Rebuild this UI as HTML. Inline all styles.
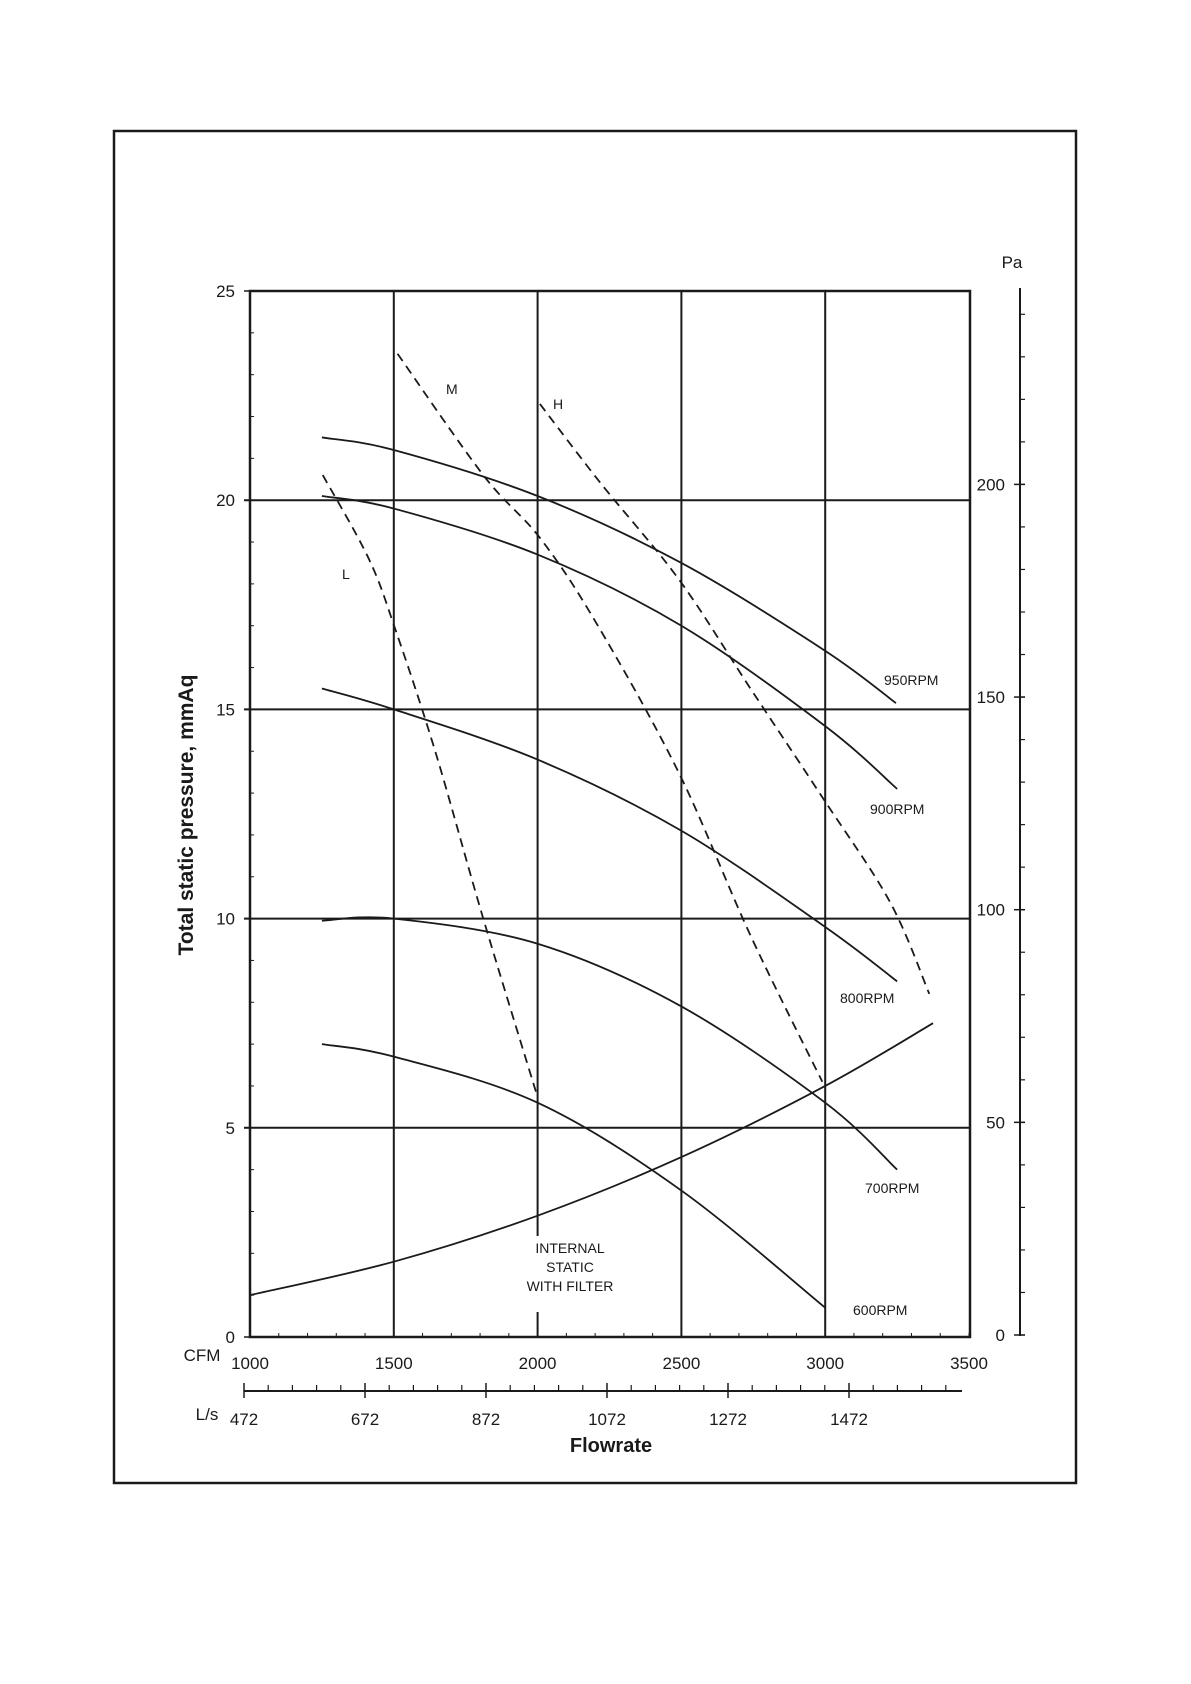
<!DOCTYPE html>
<html><head><meta charset="utf-8"><style>
html,body{margin:0;padding:0;background:#fff}
svg{display:block}
text{font-family:"Liberation Sans",sans-serif;fill:#1a1a1a}
</style></head><body>
<svg id="s" width="1191" height="1684" viewBox="0 0 1191 1684" xmlns="http://www.w3.org/2000/svg">
<rect x="114" y="131" width="962" height="1352" fill="none" stroke="#1a1a1a" stroke-width="2.5"/>
<g id="g"></g>
<text x="1012" y="268" font-size="17" text-anchor="middle">Pa</text>
<text x="193" y="815" font-size="21" font-weight="bold" text-anchor="middle" transform="rotate(-90 193 815)">Total static pressure, mmAq</text>
<text x="202" y="1361" font-size="17" text-anchor="middle">CFM</text>
<text x="207" y="1420" font-size="17" text-anchor="middle">L/s</text>
<text x="611" y="1452" font-size="20" font-weight="bold" text-anchor="middle">Flowrate</text>
<g font-size="14" text-anchor="middle">
<text x="570" y="1253">INTERNAL</text>
<text x="570" y="1272">STATIC</text>
<text x="570" y="1291">WITH FILTER</text>
</g>
<g font-size="14">
<text x="884" y="685">950RPM</text>
<text x="870" y="814">900RPM</text>
<text x="840" y="1003">800RPM</text>
<text x="865" y="1193">700RPM</text>
<text x="853" y="1315">600RPM</text>
<text x="446" y="394">M</text>
<text x="553" y="409">H</text>
<text x="342" y="579">L</text>
</g>
</svg>
<script>
var NS="http://www.w3.org/2000/svg",g=document.getElementById("g");
function X(c){return 250+(c-1000)*0.2876;}
function Y(v){return 1337-v*41.84;}
function el(t,a){var e=document.createElementNS(NS,t);for(var k in a)e.setAttribute(k,a[k]);g.appendChild(e);return e;}
function ln(x1,y1,x2,y2,w){el("line",{x1:x1,y1:y1,x2:x2,y2:y2,stroke:"#1a1a1a","stroke-width":w||1.5});}
function tx(x,y,s,a,fs){var e=el("text",{x:x,y:y,"font-size":fs||17,"text-anchor":a||"middle"});e.textContent=s;}
// grid
[5,10,15,20].forEach(function(v){ln(244,Y(v),970,Y(v),2);});
[1500,2500,3000].forEach(function(c){ln(X(c),291,X(c),1337,2);});
ln(X(2000),291,X(2000),1236,2);ln(X(2000),1312,X(2000),1337,2);
el("rect",{x:250,y:291,width:720,height:1046,fill:"none",stroke:"#1a1a1a","stroke-width":2.5});
for(var v=0;v<=25;v++){ln(250,Y(v),254,Y(v),1);}
for(var v=0;v<=25;v+=5){ln(244,Y(v),250,Y(v),1.5);tx(235,Y(v)+6,String(v),"end");}
for(var c=1000;c<=3500;c+=100){ln(X(c),1337,X(c),1333,1);}
for(var c=1000;c<=3500;c+=500){tx(X(c),1369,String(c));}
// Pa axis
ln(1020,288,1020,1336,2);
for(var p=0;p<=240;p+=10){var y=1335-p*4.253;ln(1020,y,1025,y,1.2);}
for(var p=0;p<=200;p+=50){var y=1335-p*4.253;ln(1014,y,1025,y,1.5);tx(1005,y+6,String(p),"end");}
// L/s axis
ln(244,1391,962,1391,2);
for(var i=0;i<30;i++){var x=244+i*24.2;if(x>962)break;if(i%5==0){ln(x,1383,x,1398,1.5);}else ln(x,1385,x,1391,1.2);}
[472,672,872,1072,1272,1472].forEach(function(l,i){tx(244+i*121,1425,String(l));});
// curves
function curve(pts,dash){var p=pts.map(function(q){return [X(q[0]),Y(q[1])];});
var d="M"+p[0][0]+","+p[0][1];
for(var i=0;i<p.length-1;i++){var p0=p[i-1]||p[i],p1=p[i],p2=p[i+1],p3=p[i+2]||p2;
d+=" C"+(p1[0]+(p2[0]-p0[0])/6)+","+(p1[1]+(p2[1]-p0[1])/6)+" "+(p2[0]-(p3[0]-p1[0])/6)+","+(p2[1]-(p3[1]-p1[1])/6)+" "+p2[0]+","+p2[1];}
var a={d:d,fill:"none",stroke:"#1a1a1a","stroke-width":1.8};if(dash)a["stroke-dasharray"]="9,6";el("path",a);}
curve([[1250,21.5],[1500,21.2],[2000,20.1],[2500,18.5],[3000,16.4],[3246,15.15]]);
curve([[1250,20.1],[1500,19.8],[2000,18.7],[2500,17.0],[3000,14.6],[3250,13.1]]);
curve([[1250,15.5],[1500,15.0],[2000,13.8],[2500,12.1],[3000,9.8],[3250,8.5]]);
curve([[1250,9.95],[1500,10.0],[2000,9.4],[2500,7.9],[3000,5.6],[3250,4.0]]);
curve([[1250,7.0],[1500,6.7],[2000,5.6],[2500,3.5],[3000,0.7]]);
curve([[1000,1.0],[1500,1.8],[2000,2.9],[2500,4.3],[3000,6.0],[3375,7.5]]);
curve([[1253,20.6],[1413,18.6],[1506,16.9],[1644,14.0],[1811,10.0],[1997,5.8]],1);
curve([[1513,23.5],[1811,20.6],[2008,19.1],[2201,17.1],[2490,13.5],[2740,9.6],[2990,6.1]],1);
curve([[2008,22.3],[2220,20.4],[2492,18.1],[2740,15.5],[2990,12.9],[3225,10.4],[3362,8.2]],1);
</script>
</body></html>
